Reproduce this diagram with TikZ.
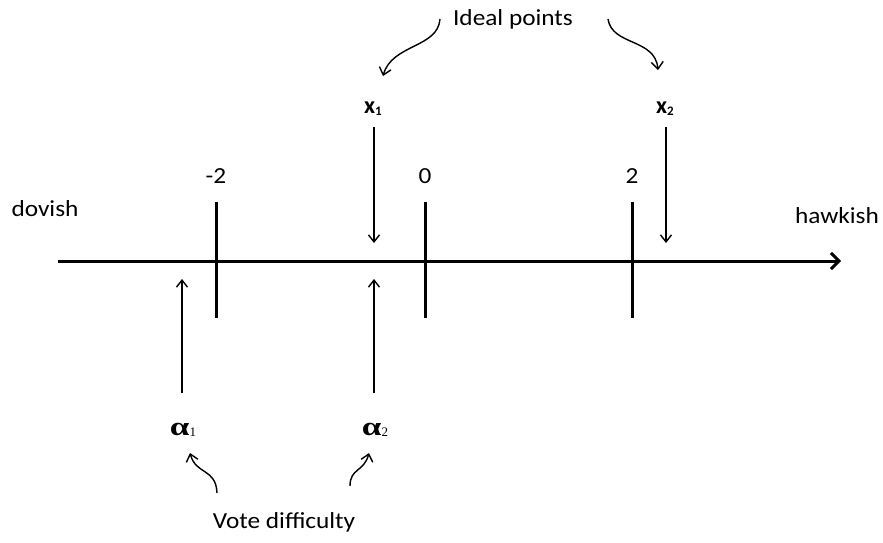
\documentclass[tikz,border=0pt]{standalone}
\usepackage{fontspec}
\usepackage{graphicx}
\setmainfont{Carlito}
\newfontfamily\greekfont{Liberation Serif}
\newcommand\wtext[1]{\scalebox{1.1}[1]{#1}}
\usetikzlibrary{arrows.meta}
\begin{document}
\begin{tikzpicture}[x=1pt,y=-1pt,
  lbl/.style={inner sep=0pt,font=\fontsize{23}{26}\selectfont},
  axisline/.style={line width=3pt,-{Straight Barb[length=8pt,width=16pt,line width=3pt]}},
  tick/.style={line width=3pt},
  ptr/.style={line width=1.4pt,-{Straight Barb[length=7pt,width=11pt,line width=1.4pt]}},
  curvy/.style={line width=1.4pt,-{Straight Barb[length=7pt,width=12pt,line width=1.4pt]}}]
\useasboundingbox (0,0) rectangle (883,542);
% axis
\coordinate (axL) at (58,261);
\coordinate (axR) at (841,261);
\draw[axisline] (axL) -- (axR);
% ticks
\foreach \n/\x/\t in {m/216/-2, z/425/0, p/632/2}{
  \coordinate (\n top) at (\x,202);
  \coordinate (\n bot) at (\x,318);
  \draw[tick] (\n top) -- (\n bot);
  \node[lbl] (\n lab) at (\x,176) {\wtext{\t}};
}
\node[lbl] (dov) at (45,209) {\wtext{dovish}};
\node[lbl] (hawk) at (837,216) {\wtext{hawkish}};
% ideal points
\node[lbl] (x1) at (373,109) {\fontsize{24}{26}\selectfont\textbf{x}\raisebox{-0.15ex}{\fontsize{13}{14}\selectfont\textbf{1}}};
\node[lbl] (x2) at (665,109) {\fontsize{24}{26}\selectfont\textbf{x}\raisebox{-0.15ex}{\fontsize{13}{14}\selectfont\textbf{2}}};
\coordinate (x1s) at (374,127);
\coordinate (x1e) at (374,243);
\coordinate (x2s) at (666,127);
\coordinate (x2e) at (666,243);
\draw[ptr] (x1s) -- (x1e);
\draw[ptr] (x2s) -- (x2e);
% difficulty
\node[lbl] (a1) at (183,430) {\scalebox{1.35}[1]{\greekfont\fontsize{26}{28}\selectfont\textbf{α}}\raisebox{-0.1ex}{\greekfont\fontsize{13}{14}\selectfont 1}};
\node[lbl] (a2) at (375,430) {\scalebox{1.35}[1]{\greekfont\fontsize{26}{28}\selectfont\textbf{α}}\raisebox{-0.1ex}{\greekfont\fontsize{13}{14}\selectfont 2}};
\coordinate (a1s) at (182,393);
\coordinate (a1e) at (182,279);
\coordinate (a2s) at (374,393);
\coordinate (a2e) at (374,279);
\draw[ptr] (a1s) -- (a1e);
\draw[ptr] (a2s) -- (a2e);
% captions
\node[lbl] (ideal) at (513,19) {\wtext{Ideal points}};
\node[lbl] (vote) at (284,522) {\wtext{Vote difficulty}};
% curved pointers
\coordinate (c1s) at (440,19);
\coordinate (c1e) at (383,76);
\draw[curvy] (c1s) .. controls (438,48) and (392,44) .. (c1e);
\coordinate (c2s) at (608,19);
\coordinate (c2e) at (658,70);
\draw[curvy] (c2s) .. controls (612,46) and (655,38) .. (c2e);
\coordinate (c3s) at (217,493);
\coordinate (c3e) at (190,453);
\draw[curvy] (c3s) .. controls (216,468) and (196,475) .. (c3e);
\coordinate (c4s) at (350,486);
\coordinate (c4e) at (369,453);
\draw[curvy] (c4s) .. controls (350,468) and (364,472) .. (c4e);
\end{tikzpicture}
\end{document}
